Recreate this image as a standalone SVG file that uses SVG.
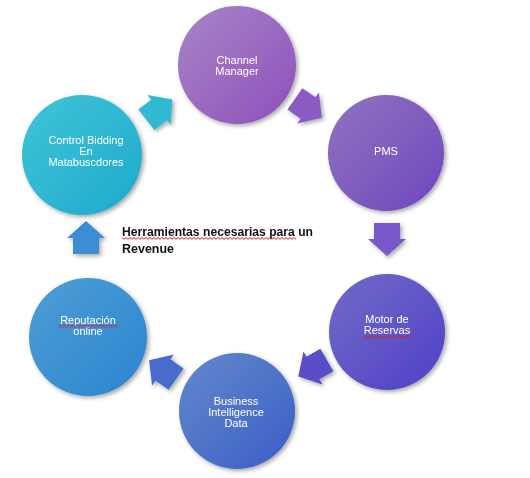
<svg xmlns="http://www.w3.org/2000/svg" width="530" height="478" viewBox="0 0 530 478">
<style>
.lbl{font-family:"Liberation Sans",Arial,sans-serif;font-size:11px;fill:#ffffff;text-anchor:middle}
.title{font-family:"Liberation Sans",Arial,sans-serif;font-size:13.5px;font-weight:bold;fill:#111111}
</style>
<defs>
<filter id="sh" x="-20%" y="-20%" width="140%" height="140%">
<feDropShadow dx="2" dy="2" stdDeviation="2" flood-color="#000" flood-opacity="0.35"/>
</filter>
<linearGradient id="gCM" x1="0" y1="0" x2="1" y2="1"><stop offset="0" stop-color="#a784c6"/><stop offset="0.55" stop-color="#9a68c0"/><stop offset="1" stop-color="#8c4fbb"/></linearGradient>
<linearGradient id="gPMS" x1="0" y1="0" x2="1" y2="1"><stop offset="0" stop-color="#8e72c0"/><stop offset="0.55" stop-color="#7e5cbd"/><stop offset="1" stop-color="#6c46c2"/></linearGradient>
<linearGradient id="gMR" x1="0" y1="0" x2="1" y2="1"><stop offset="0" stop-color="#716ac8"/><stop offset="0.55" stop-color="#5f54c6"/><stop offset="1" stop-color="#4e3fc8"/></linearGradient>
<linearGradient id="gBI" x1="0" y1="0" x2="1" y2="1"><stop offset="0" stop-color="#6288cc"/><stop offset="0.55" stop-color="#4d72c8"/><stop offset="1" stop-color="#3a5cc8"/></linearGradient>
<linearGradient id="gRO" x1="0" y1="0" x2="1" y2="1"><stop offset="0" stop-color="#4e9ed4"/><stop offset="0.55" stop-color="#3b90d2"/><stop offset="1" stop-color="#2a84d0"/></linearGradient>
<linearGradient id="gCB" x1="0" y1="0" x2="1" y2="1"><stop offset="0" stop-color="#40c4d6"/><stop offset="0.55" stop-color="#2eb6d2"/><stop offset="1" stop-color="#1ea8cc"/></linearGradient>
<pattern id="sq" width="4" height="3" patternUnits="userSpaceOnUse">
<path d="M0,2.3 L2,0.5 L4,2.3" fill="none" stroke="#e01818" stroke-width="1"/>
</pattern>
<path id="arr" d="M-16,-13 L0,-13 L0,-19 L17,0 L0,19 L0,13 L-16,13 Z"/>
</defs>
<rect width="530" height="478" fill="#ffffff"/>

<g id="connectors" filter="url(#sh)">
<use href="#arr" transform="translate(159,110) rotate(-38)" fill="#31b9d2"/>
<use href="#arr" transform="translate(308,108) rotate(35)" fill="#8a5cc2"/>
<use href="#arr" transform="translate(387,239) rotate(90)" fill="#7858c8"/>
<use href="#arr" transform="translate(313,368) rotate(150)" fill="#5a4ec8"/>
<use href="#arr" transform="translate(163,370) rotate(-145)" fill="#4a6ccc"/>
<use href="#arr" transform="translate(86,238) rotate(-90)" fill="#3a8ed4"/>
</g>

<g id="channel-manager">
<circle cx="237" cy="65" r="59" fill="url(#gCM)" filter="url(#sh)"/>
<text class="lbl" x="237" y="64">Channel</text>
<text class="lbl" x="237" y="75">Manager</text>
</g>

<g id="pms">
<circle cx="386" cy="153" r="58" fill="url(#gPMS)" filter="url(#sh)"/>
<text class="lbl" x="386" y="155">PMS</text>
</g>

<g id="motor-reservas">
<circle cx="387" cy="332" r="58" fill="url(#gMR)" filter="url(#sh)"/>
<text class="lbl" x="387" y="323">Motor de</text>
<text class="lbl" x="387" y="334">Reservas</text>
<rect x="364" y="335" width="48" height="3" fill="url(#sq)"/>
</g>

<g id="business-intelligence">
<circle cx="237" cy="411" r="58" fill="url(#gBI)" filter="url(#sh)"/>
<text class="lbl" x="236" y="405">Business</text>
<text class="lbl" x="236" y="416">Intelligence</text>
<text class="lbl" x="236" y="427">Data</text>
</g>

<g id="reputacion-online">
<circle cx="88" cy="337" r="59" fill="url(#gRO)" filter="url(#sh)"/>
<text class="lbl" x="88" y="324">Reputación</text>
<text class="lbl" x="88" y="335">online</text>
<rect x="58" y="325" width="60" height="3" fill="url(#sq)"/>
</g>

<g id="control-bidding">
<circle cx="82" cy="155" r="60" fill="url(#gCB)" filter="url(#sh)"/>
<text class="lbl" x="86" y="144">Control Bidding</text>
<text class="lbl" x="86" y="155">En</text>
<text class="lbl" x="86" y="166">Matabuscdores</text>
</g>

<g id="title">
<text class="title" x="122" y="236" textLength="191" lengthAdjust="spacingAndGlyphs">Herramientas necesarias para un</text>
<text class="title" x="122" y="253" textLength="52" lengthAdjust="spacingAndGlyphs">Revenue</text>
<rect x="122" y="237" width="174" height="3" fill="url(#sq)"/>
</g>
</svg>
